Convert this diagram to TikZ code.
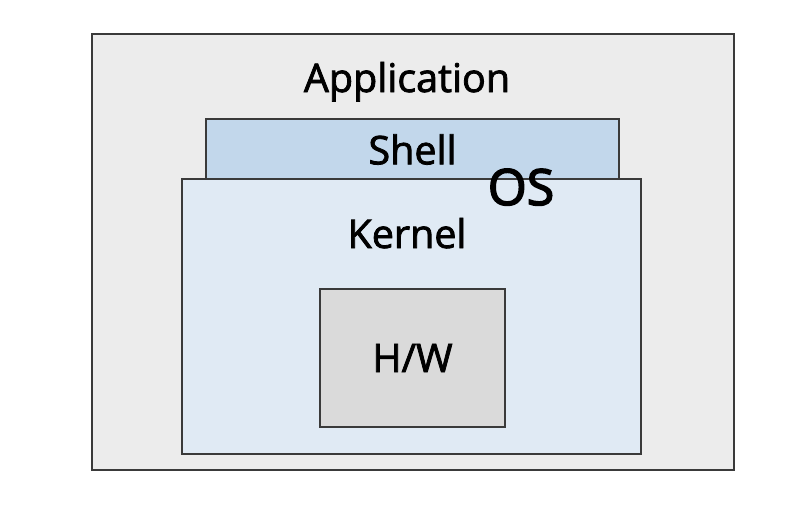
\documentclass[tikz,border=0pt]{standalone}
\usepackage{fontspec}
\setmainfont{Open Sans}[FakeBold=2]
\newfontfamily\osfont{Open Sans}[FakeBold=3]
\usepackage{xcolor}
\usetikzlibrary{positioning}
\definecolor{appgray}{HTML}{ECECEC}
\definecolor{shellblue}{HTML}{C2D7EB}
\definecolor{kernblue}{HTML}{E0EAF4}
\definecolor{hwgray}{HTML}{DADADA}
\definecolor{edge}{HTML}{3A3A3A}
\newcommand{\lbl}{\fontsize{39.5}{42}\selectfont}
\tikzset{
  layer/.style={draw=edge,line width=1.4pt,rectangle,inner sep=0pt,font=\lbl},
  title/.style={inner sep=0pt,anchor=base,font=\lbl}
}

\begin{document}
\begin{tikzpicture}[x=1pt,y=-1pt]
    \useasboundingbox (0,0) rectangle (788,522);
    \node[layer,fill=appgray,minimum width=642,minimum height=436] (app) at (413,252) {};
    \node[layer,fill=shellblue,minimum width=413,minimum height=61] (shell) at (412.5,149.5) {Shell};
    \node[layer,fill=kernblue,minimum width=459,minimum height=275] (kern) at (411.5,316.5) {};
    \node[layer,fill=hwgray,minimum width=185,minimum height=138] (hw) at (412.5,358) {H/W};
    \node[title] (applbl) at (407,92) {Application};
    \node[title] (kernlbl) at (407,248) {Kernel};
    \node[title,font=\osfont\fontsize{50}{52}\selectfont] (os) at (521,205) {OS};
\end{tikzpicture}
\end{document}
